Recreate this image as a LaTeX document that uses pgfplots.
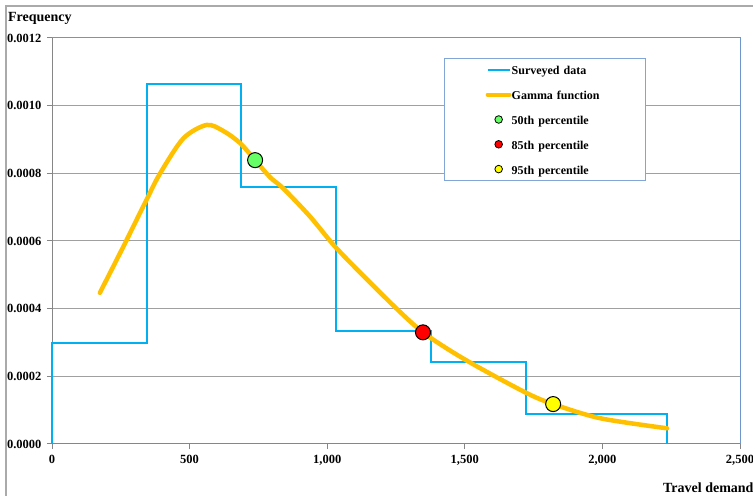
\documentclass[border=0pt]{standalone}
\usepackage{fontspec}
\setmainfont{Liberation Serif}
\usepackage{pgfplots}
\pgfplotsset{compat=1.18}
\definecolor{histblue}{RGB}{0,176,240}
\definecolor{gold}{RGB}{255,192,0}
\definecolor{dotgreen}{RGB}{102,255,102}
\definecolor{dotred}{RGB}{255,0,0}
\definecolor{dotyellow}{RGB}{255,255,0}
\definecolor{axisgray}{RGB}{134,134,134}
\definecolor{gridgray}{RGB}{160,160,160}
\definecolor{outergray}{RGB}{170,170,170}
\definecolor{frameblue}{RGB}{110,150,205}
\definecolor{legblue}{RGB}{130,165,215}
\begin{document}
\begin{tikzpicture}
\draw[outergray, line width=1.2bp] (6bp,0bp) -- (6bp,490bp) -- (753bp,490bp);
\begin{axis}[
  at={(52bp,52bp)}, anchor=south west,
  scale only axis, width=688bp, height=406bp,
  xmin=0, xmax=2500, ymin=0, ymax=0.0012,
  clip=false,
  axis lines*=left,
  axis line style={draw=axisgray, line width=1bp},
  xtick={0,500,1000,1500,2000,2500},
  ytick={0,0.0002,0.0004,0.0006,0.0008,0.001,0.0012},
  scaled y ticks=false, scaled x ticks=false,
  tick align=outside, major tick length=5bp,
  tick style={draw=axisgray, line width=1bp},
  ymajorgrids, grid style={draw=gridgray, line width=1bp},
  /pgf/number format/assume math mode=true,
  ticklabel style={font=\bfseries\fontsize{12.5bp}{14bp}\selectfont},
  y tick label style={xshift=-2bp, /pgf/number format/fixed, /pgf/number format/fixed zerofill, /pgf/number format/precision=4},
  x tick label style={yshift=-2.5bp, /pgf/number format/fixed, /pgf/number format/1000 sep={,}},
  xlabel={Travel demand},
  xlabel style={at={(axis description cs:0.888,-0.108)}, anchor=west, inner sep=0pt, font=\bfseries\fontsize{14bp}{16bp}\selectfont},
  ylabel={Frequency},
  ylabel style={at={(axis description cs:-0.064,1.049)}, anchor=west, rotate=-90, inner sep=0pt, font=\bfseries\fontsize{14bp}{16bp}\selectfont},
  legend style={at={(axis description cs:0.570,0.951)}, anchor=north west, draw=legblue, line width=1bp,
    inner xsep=41bp, inner ysep=6bp, row sep=13.8bp,
    font=\bfseries\fontsize{12bp}{14bp}\selectfont,
    nodes={inner xsep=0bp, inner ysep=0bp, text height=10.5bp, text depth=0.5bp},
    /tikz/every even column/.append style={text width=93bp}},
  legend cell align=left,
]
\addplot[histblue, line width=2bp, forget plot] coordinates {
  (0,0) (0,0.000298) (344,0.000298) (344,0.001064) (688,0.001064)
  (688,0.000759) (1033,0.000759) (1033,0.000334) (1376,0.000334)
  (1376,0.000243) (1721,0.000243) (1721,0.0000900) (2236,0.0000900) (2236,0)
};
\addplot[gold, line width=4.5bp, smooth, tension=0.5, line cap=round, line join=round, forget plot] coordinates {
  (174,0.000447) (259,0.000583) (346,0.000726) (393,0.000800) (477,0.000903)
  (562,0.000943) (623,0.000925) (684,0.000889) (738,0.000839)
  (793,0.000788) (841,0.000755) (938,0.000672) (1029,0.000583) (1144,0.000487)
  (1265,0.000390) (1348,0.000330) (1447,0.000276) (1556,0.000224)
  (1726,0.000150) (1821,0.000118) (1993,0.0000760) (2235,0.0000464)
};
\addplot[only marks, mark=*, mark size=7.5bp, mark options={fill=dotgreen, draw=black, line width=1bp}, forget plot] coordinates {(738,0.000839)};
\addplot[only marks, mark=*, mark size=7.5bp, mark options={fill=dotred, draw=black, line width=1bp}, forget plot] coordinates {(1348,0.000330)};
\addplot[only marks, mark=*, mark size=7.5bp, mark options={fill=dotyellow, draw=black, line width=1bp}, forget plot] coordinates {(1821,0.000118)};
\draw[frameblue, line width=1bp] (rel axis cs:0,1) -- (rel axis cs:1,1) -- (rel axis cs:1,0);
\addlegendimage{legend image code/.code={\draw[histblue, line width=2bp] (0bp,0bp) -- (22bp,0bp);}}
\addlegendentry{Surveyed data}
\addlegendimage{legend image code/.code={\draw[gold, line width=4bp, line cap=round] (0bp,0bp) -- (22bp,0bp);}}
\addlegendentry{Gamma function}
\addlegendimage{legend image code/.code={\draw[black, fill=dotgreen, line width=0.8bp] (11bp,0bp) circle (3.8bp);}}
\addlegendentry{50th percentile}
\addlegendimage{legend image code/.code={\draw[black, fill=dotred, line width=0.8bp] (11bp,0bp) circle (3.8bp);}}
\addlegendentry{85th percentile}
\addlegendimage{legend image code/.code={\draw[black, fill=dotyellow, line width=0.8bp] (11bp,0bp) circle (3.8bp);}}
\addlegendentry{95th percentile}
\end{axis}
\pgfresetboundingbox
\useasboundingbox (0bp,0bp) rectangle (753bp,496bp);
\end{tikzpicture}
\end{document}
